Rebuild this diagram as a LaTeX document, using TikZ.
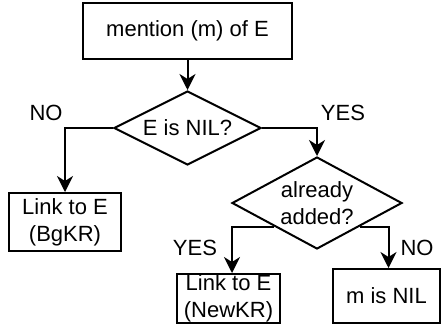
\documentclass[tikz,border=0pt]{standalone}
\usepackage{fontspec}
\setmainfont{Liberation Sans}
\usetikzlibrary{arrows.meta,shapes.geometric}
\begin{document}
\begin{tikzpicture}[x=1pt,y=-1pt,
  every node/.style={font=\fontsize{22}{27}\selectfont},
  box/.style={draw,line width=2pt,rectangle,inner sep=0pt,align=center},
  decision/.style={draw,line width=2pt,diamond,aspect=2,inner sep=0pt,align=center},
  flow/.style={line width=2pt,-{Stealth[length=16pt,width=16pt,inset=5pt]}},
  lbl/.style={inner sep=0pt}]
\useasboundingbox (0,0) rectangle (441,325);

% process boxes and decisions
\node[box,minimum width=209,minimum height=56] (start) at (187.5,31) {mention (m) of E};
\node[decision,minimum width=147,minimum height=74] (d1) at (187.5,128) {E is NIL?};
\node[box,minimum width=112,minimum height=58] (bg) at (65,222) {Link to E\\(BgKR)};
\node[decision,minimum width=170,minimum height=92] (d2) at (317,203) {already\\added?};
\node[box,minimum width=103,minimum height=49] (nk) at (228.5,298.5) {Link to E\\(NewKR)};
\node[box,minimum width=107,minimum height=54] (mn) at (386.5,296) {m is NIL};

% branch labels
\node[lbl] (no1) at (46,113) {NO};
\node[lbl] (yes1) at (343,113) {YES};
\node[lbl] (yes2) at (195,248) {YES};
\node[lbl] (no2) at (417,248) {NO};

% connectors
\draw[flow] (start) -- (d1);
\draw[flow] (d1.west) -| (bg.north);
\draw[flow] (d1.east) -| (d2.north);
\draw[flow] (d2.south west) -| ([xshift=3.5pt]nk.north);
\draw[flow] (d2.south east) -| ([xshift=2pt]mn.north);
\end{tikzpicture}
\end{document}
